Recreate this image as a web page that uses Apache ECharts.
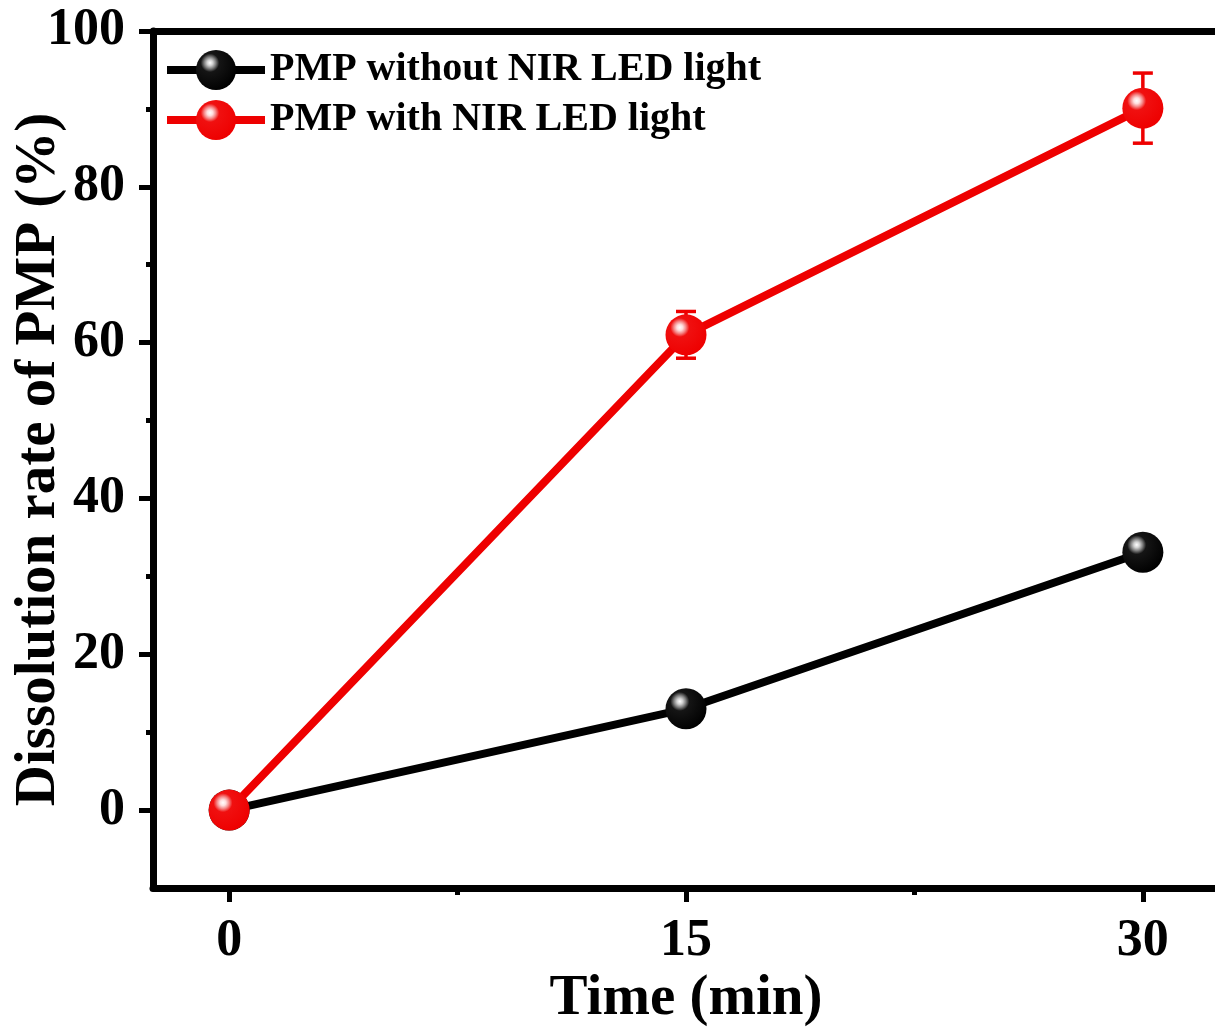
<!DOCTYPE html>
<html>
<head>
<meta charset="utf-8">
<script src="https://cdn.jsdelivr.net/npm/echarts@6/dist/echarts.min.js"></script>
<style>
html,body{margin:0;padding:0;background:#fff;}
#chart{width:1215px;height:1028px;}
</style>
</head>
<body>
<div id="chart"></div>
<script>
var times = [0, 15, 30];
var seriesNames = ['PMP without NIR LED light', 'PMP with NIR LED light'];
var withoutNIR = [0, 13.0, 33.1];
var withoutNIRErr = [0, 0.8, 0.6];
var withNIR = [0, 61.0, 90.1];
var withNIRErr = [0, 3.0, 4.5];
var xTicks = [0, 15, 30];
var xMinorTicks = [7.5, 22.5];
var yTicks = [0, 20, 40, 60, 80, 100];
var yMinorTicks = [10, 30, 50, 70, 90];

var FONT = "'Liberation Serif','Times New Roman',serif";

function pairs(xs, ys) { return xs.map(function (x, i) { return [x, ys[i]]; }); }
function errRows(xs, ys, es) { return xs.map(function (x, i) { return [x, ys[i] - es[i], ys[i] + es[i]]; }); }

function ballGrad(kind) {
  if (kind === 'red') {
    return { type: 'radial', x: 0.35, y: 0.32, r: 0.72, colorStops: [
      { offset: 0, color: '#ffffff' }, { offset: 0.1, color: '#ffdede' },
      { offset: 0.2, color: '#f58a8a' }, { offset: 0.32, color: '#f01010' },
      { offset: 1, color: '#ee0000' }] };
  }
  return { type: 'radial', x: 0.35, y: 0.32, r: 0.72, colorStops: [
    { offset: 0, color: '#ffffff' }, { offset: 0.1, color: '#d0d0d0' },
    { offset: 0.2, color: '#808080' }, { offset: 0.32, color: '#151515' },
    { offset: 1, color: '#000000' }] };
}

function errorRender(color) {
  return function (params, api) {
    var x = api.value(0);
    var lo = api.coord([x, api.value(1)]);
    var hi = api.coord([x, api.value(2)]);
    var w = 10;
    var style = { stroke: color, lineWidth: 3.5 };
    return { type: 'group', children: [
      { type: 'line', shape: { x1: lo[0], y1: lo[1], x2: hi[0], y2: hi[1] }, style: style },
      { type: 'line', shape: { x1: lo[0] - w, y1: lo[1], x2: lo[0] + w, y2: lo[1] }, style: style },
      { type: 'line', shape: { x1: hi[0] - w, y1: hi[1], x2: hi[0] + w, y2: hi[1] }, style: style }
    ] };
  };
}

var chart = echarts.init(document.getElementById('chart'), null, { renderer: 'canvas' });

var axisLineStyle = { color: '#000', width: 7 };

var option = {
  backgroundColor: '#fff',
  animation: false,
  textStyle: { fontFamily: FONT },
  grid: { left: 153, top: 31, width: 1066, height: 857, containLabel: false, outerBoundsMode: 'none' },
  legend: {
    data: seriesNames,
    orient: 'vertical',
    left: 158,
    top: 45,
    itemWidth: 98,
    itemHeight: 50,
    itemGap: 10,
    lineStyle: { width: 8 },
    textStyle: { fontFamily: FONT, fontWeight: 'bold', fontSize: 40, color: '#000' }
  },
  xAxis: [
    {
      type: 'value', min: -2.5, max: 32.5, position: 'bottom',
      name: 'Time (min)', nameLocation: 'middle', nameGap: 83, nameMoveOverlap: false,
      nameTextStyle: { fontFamily: FONT, fontWeight: 'bold', fontSize: 57, color: '#000' },
      axisLine: { show: true, onZero: false, lineStyle: axisLineStyle },
      axisTick: { show: true, customValues: xTicks, length: 14, lineStyle: { color: '#000', width: 5 } },
      axisLabel: { show: true, customValues: xTicks, margin: 28, fontFamily: FONT, fontWeight: 'bold', fontSize: 52, color: '#000' },
      splitLine: { show: false }
    },
    {
      type: 'value', min: -2.5, max: 32.5, position: 'bottom', gridIndex: 0,
      axisLine: { show: false, onZero: false },
      axisTick: { show: true, customValues: xMinorTicks, length: 7, lineStyle: { color: '#000', width: 5 } },
      axisLabel: { show: false }, splitLine: { show: false }
    },
    {
      type: 'value', min: -2.5, max: 32.5, position: 'top', gridIndex: 0,
      axisLine: { show: true, onZero: false, lineStyle: axisLineStyle },
      axisTick: { show: false }, axisLabel: { show: false }, splitLine: { show: false }
    }
  ],
  yAxis: [
    {
      type: 'value', min: -10, max: 100, position: 'left',
      name: 'Dissolution rate of PMP (%)', nameLocation: 'middle', nameGap: 85, nameRotate: 90, nameMoveOverlap: false,
      nameTextStyle: { fontFamily: FONT, fontWeight: 'bold', fontSize: 57, color: '#000' },
      axisLine: { show: true, onZero: false, lineStyle: axisLineStyle },
      axisTick: { show: true, customValues: yTicks, length: 14, lineStyle: { color: '#000', width: 5 } },
      axisLabel: { show: true, customValues: yTicks, margin: 28, fontFamily: FONT, fontWeight: 'bold', fontSize: 52, color: '#000' },
      splitLine: { show: false }
    },
    {
      type: 'value', min: -10, max: 100, position: 'left', gridIndex: 0,
      axisLine: { show: false, onZero: false },
      axisTick: { show: true, customValues: yMinorTicks, length: 7, lineStyle: { color: '#000', width: 5 } },
      axisLabel: { show: false }, splitLine: { show: false }
    }
  ],
  series: [
    {
      name: 'err-without', type: 'custom', xAxisIndex: 0, yAxisIndex: 0, z: 2,
      renderItem: errorRender('#000'), data: errRows(times, withoutNIR, withoutNIRErr), silent: true
    },
    {
      name: seriesNames[0], type: 'line', xAxisIndex: 0, yAxisIndex: 0, z: 3,
      data: pairs(times, withoutNIR),
      symbol: 'circle', symbolSize: 41,
      lineStyle: { color: '#000', width: 8 },
      itemStyle: { color: ballGrad('black'), borderWidth: 0 }
    },
    {
      name: 'err-with', type: 'custom', xAxisIndex: 0, yAxisIndex: 0, z: 4,
      renderItem: errorRender('#ee0000'), data: errRows(times, withNIR, withNIRErr), silent: true
    },
    {
      name: seriesNames[1], type: 'line', xAxisIndex: 0, yAxisIndex: 0, z: 5,
      data: pairs(times, withNIR),
      symbol: 'circle', symbolSize: 41,
      lineStyle: { color: '#ee0000', width: 8 },
      itemStyle: { color: ballGrad('red'), borderWidth: 0 }
    }
  ]
};
chart.setOption(option);
</script>
</body>
</html>
